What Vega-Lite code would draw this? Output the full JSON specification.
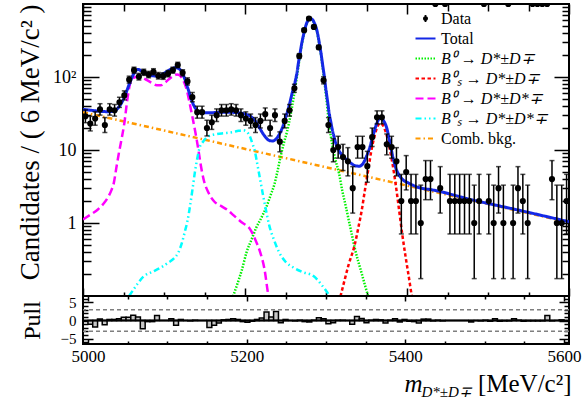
{
"$schema":"https://vega.github.io/schema/vega-lite/v6.json",
"padding":{"left":14,"top":2,"right":0,"bottom":0},
"spacing":0,
"bounds":"flush",
"config":{
 "font":"Liberation Serif",
 "view":{"stroke":"black","strokeWidth":2},
 "axis":{"domain":false,"grid":false,"tickColor":"black","tickWidth":1.5,"labelFont":"Liberation Serif","labelFontSize":18,"labelColor":"black","titleFont":"Liberation Serif","titleFontWeight":"normal","titleColor":"black"},
 "legend":{"labelFont":"Liberation Serif"}
},
"datasets":{
"bins":[
{"m":5003,"n":29,"lo":23.66,"hi":35.48,"pull":-1.0},
{"m":5009,"n":23,"lo":18.25,"hi":28.9,"pull":-1.8},
{"m":5015,"n":27,"lo":21.85,"hi":33.29,"pull":0.4},
{"m":5021,"n":36,"lo":30.05,"hi":43.08,"pull":-1.2},
{"m":5027,"n":22,"lo":17.36,"hi":27.8,"pull":0.3},
{"m":5033,"n":36,"lo":30.05,"hi":43.08,"pull":0.3},
{"m":5039,"n":35,"lo":29.13,"hi":42,"pull":0.5},
{"m":5045,"n":45,"lo":38.34,"hi":52.78,"pull":0.9},
{"m":5051,"n":56,"lo":48.57,"hi":64.55,"pull":0.9},
{"m":5057,"n":92,"lo":82.46,"hi":102.64,"pull":1.5},
{"m":5063,"n":124,"lo":112.9,"hi":136.2,"pull":1.0},
{"m":5069,"n":101,"lo":91.0,"hi":112.1,"pull":-2.3},
{"m":5075,"n":116,"lo":105.3,"hi":127.8,"pull":-0.3},
{"m":5081,"n":108,"lo":97.66,"hi":119.4,"pull":-0.3},
{"m":5087,"n":118,"lo":107.2,"hi":129.9,"pull":1.4},
{"m":5093,"n":104,"lo":93.85,"hi":115.25,"pull":0.0},
{"m":5099,"n":103,"lo":92.9,"hi":114.2,"pull":0.0},
{"m":5105,"n":111,"lo":100.5,"hi":122.6,"pull":0.5},
{"m":5111,"n":124,"lo":112.9,"hi":136.2,"pull":-1.3},
{"m":5117,"n":146,"lo":133.97,"hi":159.1,"pull":0.3},
{"m":5123,"n":114,"lo":103.4,"hi":125.7,"pull":0.0},
{"m":5129,"n":87,"lo":77.72,"hi":97.38,"pull":-0.1},
{"m":5135,"n":53,"lo":45.77,"hi":61.35,"pull":0.1},
{"m":5141,"n":33,"lo":27.3,"hi":39.8,"pull":0.0},
{"m":5147,"n":33,"lo":27.3,"hi":39.8,"pull":0.0},
{"m":5153,"n":20,"lo":15.58,"hi":25.58,"pull":-1.9},
{"m":5159,"n":24,"lo":19.15,"hi":30,"pull":-1.3},
{"m":5165,"n":30,"lo":24.57,"hi":36.57,"pull":-0.7},
{"m":5171,"n":35,"lo":29.13,"hi":42,"pull":0.2},
{"m":5177,"n":35,"lo":29.13,"hi":42,"pull":0.3},
{"m":5183,"n":36,"lo":30.05,"hi":43.08,"pull":0.5},
{"m":5189,"n":35,"lo":29.13,"hi":42,"pull":0.3},
{"m":5195,"n":30,"lo":24.57,"hi":36.57,"pull":-0.3},
{"m":5201,"n":27,"lo":21.85,"hi":33.29,"pull":-0.5},
{"m":5207,"n":25,"lo":20.05,"hi":31.1,"pull":-0.2},
{"m":5213,"n":22,"lo":17.36,"hi":27.8,"pull":0.3},
{"m":5219,"n":25,"lo":20.05,"hi":31.1,"pull":0.7},
{"m":5225,"n":31,"lo":25.48,"hi":37.66,"pull":2.4},
{"m":5231,"n":20,"lo":15.58,"hi":25.58,"pull":1.0},
{"m":5237,"n":30,"lo":24.57,"hi":36.57,"pull":2.5},
{"m":5243,"n":13,"lo":9.44,"hi":17.71,"pull":-0.6},
{"m":5249,"n":25,"lo":20.05,"hi":31.1,"pull":0.3},
{"m":5255,"n":35,"lo":29.13,"hi":42,"pull":0.0},
{"m":5261,"n":70,"lo":61.68,"hi":79.43,"pull":-0.1},
{"m":5267,"n":194,"lo":180.1,"hi":208.96,"pull":0.1},
{"m":5273,"n":438,"lo":417.1,"hi":459.95,"pull":-0.3},
{"m":5279,"n":633,"lo":607.9,"hi":659.2,"pull":-0.4},
{"m":5285,"n":486,"lo":464,"hi":509.1,"pull":0.1},
{"m":5291,"n":255,"lo":239.1,"hi":272,"pull":0.8},
{"m":5297,"n":90,"lo":80.56,"hi":100.54,"pull":0.5},
{"m":5303,"n":22,"lo":17.36,"hi":27.8,"pull":-0.9},
{"m":5309,"n":10,"lo":6.891,"hi":14.27,"pull":-0.6},
{"m":5315,"n":11,"lo":7.734,"hi":15.42,"pull":0.1},
{"m":5321,"n":8,"lo":5.232,"hi":11.95,"pull":0.1},
{"m":5327,"n":7,"lo":4.419,"hi":10.77,"pull":0.0},
{"m":5333,"n":3,"lo":1.367,"hi":5.918,"pull":-1.0},
{"m":5339,"n":11,"lo":7.734,"hi":15.42,"pull":1.1},
{"m":5345,"n":11,"lo":7.734,"hi":15.42,"pull":0.6},
{"m":5351,"n":6,"lo":3.62,"hi":9.584,"pull":-0.6},
{"m":5357,"n":15,"lo":11.18,"hi":20,"pull":0.1},
{"m":5363,"n":28,"lo":22.76,"hi":34.39,"pull":0.3},
{"m":5369,"n":28,"lo":22.76,"hi":34.39,"pull":0.2},
{"m":5375,"n":12,"lo":8.585,"hi":16.57,"pull":-0.7},
{"m":5381,"n":11,"lo":7.734,"hi":15.42,"pull":0.1},
{"m":5387,"n":7,"lo":4.419,"hi":10.77,"pull":0.5},
{"m":5393,"n":2,"lo":0.708,"hi":4.638,"pull":-0.4},
{"m":5399,"n":5,"lo":2.84,"hi":8.382,"pull":0.3},
{"m":5405,"n":2,"lo":0.708,"hi":4.638,"pull":-0.2},
{"m":5411,"n":2,"lo":0.708,"hi":4.638,"pull":-0.3},
{"m":5417,"n":1,"lo":0.173,"hi":3.3,"pull":-0.7},
{"m":5423,"n":4,"lo":2.086,"hi":7.163,"pull":0.4},
{"m":5429,"n":4,"lo":2.086,"hi":7.163,"pull":0.4},
{"m":5435,"n":0,"lo":null,"hi":null,"pull":-0.1},
{"m":5441,"n":3,"lo":1.367,"hi":5.918,"pull":0.1},
{"m":5447,"n":0,"lo":null,"hi":null,"pull":-0.1},
{"m":5453,"n":2,"lo":0.708,"hi":4.638,"pull":0.0},
{"m":5459,"n":2,"lo":0.708,"hi":4.638,"pull":0.0},
{"m":5465,"n":2,"lo":0.708,"hi":4.638,"pull":0.0},
{"m":5471,"n":2,"lo":0.708,"hi":4.638,"pull":0.0},
{"m":5477,"n":2,"lo":0.708,"hi":4.638,"pull":0.0},
{"m":5483,"n":1,"lo":0.173,"hi":3.3,"pull":-0.4},
{"m":5489,"n":2,"lo":0.708,"hi":4.638,"pull":0.0},
{"m":5495,"n":0,"lo":null,"hi":null,"pull":-0.1},
{"m":5501,"n":2,"lo":0.708,"hi":4.638,"pull":0.1},
{"m":5507,"n":1,"lo":0.173,"hi":3.3,"pull":-0.2},
{"m":5513,"n":3,"lo":1.367,"hi":5.918,"pull":0.5},
{"m":5519,"n":1,"lo":0.173,"hi":3.3,"pull":-0.2},
{"m":5525,"n":0,"lo":null,"hi":null,"pull":-0.1},
{"m":5531,"n":1,"lo":0.173,"hi":3.3,"pull":-0.1},
{"m":5537,"n":3,"lo":1.367,"hi":5.918,"pull":0.5},
{"m":5543,"n":2,"lo":0.708,"hi":4.638,"pull":0.1},
{"m":5549,"n":1,"lo":0.173,"hi":3.3,"pull":-0.2},
{"m":5555,"n":0,"lo":null,"hi":null,"pull":-0.1},
{"m":5561,"n":0,"lo":null,"hi":null,"pull":-0.1},
{"m":5567,"n":0,"lo":null,"hi":null,"pull":-0.1},
{"m":5573,"n":0,"lo":null,"hi":null,"pull":-0.1},
{"m":5579,"n":4,"lo":2.086,"hi":7.163,"pull":1.4},
{"m":5585,"n":1,"lo":0.173,"hi":3.3,"pull":-0.1},
{"m":5591,"n":1,"lo":0.173,"hi":3.3,"pull":0.0},
{"m":5597,"n":2,"lo":0.708,"hi":4.638,"pull":0.2}
],
"total":[
{"c":"total","m":5000,"v":36},{"c":"total","m":5010,"v":35},{"c":"total","m":5020,"v":34},{"c":"total","m":5030,"v":33.5},{"c":"total","m":5038,"v":34},{"c":"total","m":5044,"v":38.5},{"c":"total","m":5048,"v":45},{"c":"total","m":5052,"v":56},{"c":"total","m":5056,"v":74},{"c":"total","m":5060,"v":96},{"c":"total","m":5064,"v":117},{"c":"total","m":5068,"v":127},{"c":"total","m":5072,"v":121},{"c":"total","m":5078,"v":111},{"c":"total","m":5084,"v":105},{"c":"total","m":5090,"v":103},{"c":"total","m":5096,"v":106},{"c":"total","m":5102,"v":116},{"c":"total","m":5108,"v":127},{"c":"total","m":5114,"v":134},{"c":"total","m":5118,"v":131},{"c":"total","m":5122,"v":117},{"c":"total","m":5126,"v":92},{"c":"total","m":5130,"v":67},{"c":"total","m":5134,"v":48.5},{"c":"total","m":5138,"v":38.5},{"c":"total","m":5142,"v":34},{"c":"total","m":5148,"v":32.5},{"c":"total","m":5160,"v":32.5},{"c":"total","m":5175,"v":33},{"c":"total","m":5190,"v":32.5},{"c":"total","m":5200,"v":31},{"c":"total","m":5206,"v":29.3},{"c":"total","m":5212,"v":25.5},{"c":"total","m":5218,"v":20},{"c":"total","m":5224,"v":15.7},{"c":"total","m":5230,"v":13.5},{"c":"total","m":5234,"v":13.3},{"c":"total","m":5238,"v":14},{"c":"total","m":5242,"v":16.2},{"c":"total","m":5246,"v":20},{"c":"total","m":5250,"v":27.5},{"c":"total","m":5254,"v":38.5},{"c":"total","m":5258,"v":59},{"c":"total","m":5262,"v":87},{"c":"total","m":5264,"v":112},{"c":"total","m":5266,"v":157},{"c":"total","m":5268,"v":212},{"c":"total","m":5270,"v":287},{"c":"total","m":5272,"v":367},{"c":"total","m":5274,"v":457},{"c":"total","m":5276,"v":542},{"c":"total","m":5278,"v":602},{"c":"total","m":5280,"v":642},{"c":"total","m":5282,"v":627},{"c":"total","m":5284,"v":597},{"c":"total","m":5286,"v":537},{"c":"total","m":5288,"v":468},{"c":"total","m":5290,"v":377},{"c":"total","m":5292,"v":281},{"c":"total","m":5294,"v":206},{"c":"total","m":5296,"v":143},{"c":"total","m":5298,"v":100},{"c":"total","m":5300,"v":66},{"c":"total","m":5302,"v":46},{"c":"total","m":5304,"v":31.5},{"c":"total","m":5306,"v":24},{"c":"total","m":5308,"v":18.5},{"c":"total","m":5310,"v":15.1},{"c":"total","m":5312,"v":12.5},{"c":"total","m":5316,"v":9.8},{"c":"total","m":5322,"v":8},{"c":"total","m":5330,"v":6.7},{"c":"total","m":5336,"v":6.1},{"c":"total","m":5341,"v":6.0},{"c":"total","m":5346,"v":6.6},{"c":"total","m":5350,"v":8.2},{"c":"total","m":5354,"v":10.8},{"c":"total","m":5358,"v":15.7},{"c":"total","m":5362,"v":22},{"c":"total","m":5366,"v":27},{"c":"total","m":5368,"v":27.5},{"c":"total","m":5371,"v":25.3},{"c":"total","m":5375,"v":20},{"c":"total","m":5379,"v":12.4},{"c":"total","m":5383,"v":7.6},{"c":"total","m":5387,"v":5.35},{"c":"total","m":5392,"v":4.25},{"c":"total","m":5396,"v":3.82},{"c":"total","m":5400,"v":3.62},{"c":"total","m":5413,"v":3.1},{"c":"total","m":5433,"v":2.82},{"c":"total","m":5480,"v":2.08},{"c":"total","m":5540,"v":1.48},{"c":"total","m":5600,"v":1.04}
],
"comp":[
{"c":"comb","m":5000,"v":33},{"c":"comb","m":5600,"v":1.02},
{"c":"b0dd","m":5184,"v":0.091},{"c":"b0dd","m":5190,"v":0.14},{"c":"b0dd","m":5196,"v":0.225},{"c":"b0dd","m":5202,"v":0.4},{"c":"b0dd","m":5208,"v":0.59},{"c":"b0dd","m":5214,"v":0.87},{"c":"b0dd","m":5220,"v":1.17},{"c":"b0dd","m":5226,"v":1.62},{"c":"b0dd","m":5232,"v":2.47},{"c":"b0dd","m":5236,"v":3.3},{"c":"b0dd","m":5240,"v":5.05},{"c":"b0dd","m":5244,"v":8.2},{"c":"b0dd","m":5248,"v":12.5},{"c":"b0dd","m":5252,"v":18},{"c":"b0dd","m":5256,"v":29},{"c":"b0dd","m":5260,"v":52},{"c":"b0dd","m":5264,"v":100},{"c":"b0dd","m":5268,"v":200},{"c":"b0dd","m":5272,"v":355},{"c":"b0dd","m":5276,"v":530},{"c":"b0dd","m":5280,"v":630},{"c":"b0dd","m":5284,"v":585},{"c":"b0dd","m":5288,"v":456},{"c":"b0dd","m":5292,"v":270},{"c":"b0dd","m":5296,"v":132},{"c":"b0dd","m":5300,"v":56},{"c":"b0dd","m":5304,"v":22},{"c":"b0dd","m":5308,"v":11.4},{"c":"b0dd","m":5312,"v":7.1},{"c":"b0dd","m":5316,"v":4.85},{"c":"b0dd","m":5320,"v":2.8},{"c":"b0dd","m":5324,"v":1.78},{"c":"b0dd","m":5330,"v":0.87},{"c":"b0dd","m":5336,"v":0.43},{"c":"b0dd","m":5344,"v":0.205},{"c":"b0dd","m":5352,"v":0.1},{"c":"b0dd","m":5356,"v":0.073},
{"c":"bsdd","m":5316,"v":0.082},{"c":"bsdd","m":5322,"v":0.15},{"c":"bsdd","m":5328,"v":0.27},{"c":"bsdd","m":5335,"v":0.48},{"c":"bsdd","m":5340,"v":0.87},{"c":"bsdd","m":5344,"v":1.47},{"c":"bsdd","m":5348,"v":2.8},{"c":"bsdd","m":5352,"v":5.25},{"c":"bsdd","m":5356,"v":9.8},{"c":"bsdd","m":5360,"v":15.6},{"c":"bsdd","m":5364,"v":21.5},{"c":"bsdd","m":5367,"v":23.2},{"c":"bsdd","m":5370,"v":22},{"c":"bsdd","m":5374,"v":17.2},{"c":"bsdd","m":5378,"v":11.3},{"c":"bsdd","m":5382,"v":6.6},{"c":"bsdd","m":5386,"v":3.4},{"c":"bsdd","m":5390,"v":1.58},{"c":"bsdd","m":5394,"v":0.72},{"c":"bsdd","m":5398,"v":0.36},{"c":"bsdd","m":5402,"v":0.19},{"c":"bsdd","m":5406,"v":0.1},{"c":"bsdd","m":5410,"v":0.064},
{"c":"b0dsd","m":5000,"v":1.12},{"c":"b0dsd","m":5010,"v":1.32},{"c":"b0dsd","m":5018,"v":1.52},{"c":"b0dsd","m":5025,"v":1.82},{"c":"b0dsd","m":5030,"v":2.17},{"c":"b0dsd","m":5035,"v":2.8},{"c":"b0dsd","m":5038,"v":3.52},{"c":"b0dsd","m":5041,"v":5.55},{"c":"b0dsd","m":5044,"v":8.7},{"c":"b0dsd","m":5047,"v":13},{"c":"b0dsd","m":5051,"v":23.2},{"c":"b0dsd","m":5055,"v":51.5},{"c":"b0dsd","m":5059,"v":87},{"c":"b0dsd","m":5063,"v":98},{"c":"b0dsd","m":5067,"v":100.5},{"c":"b0dsd","m":5073,"v":98},{"c":"b0dsd","m":5079,"v":90.5},{"c":"b0dsd","m":5085,"v":83},{"c":"b0dsd","m":5091,"v":77},{"c":"b0dsd","m":5096,"v":77},{"c":"b0dsd","m":5101,"v":83},{"c":"b0dsd","m":5106,"v":93},{"c":"b0dsd","m":5111,"v":102},{"c":"b0dsd","m":5116,"v":108},{"c":"b0dsd","m":5119,"v":106.5},{"c":"b0dsd","m":5122,"v":97.5},{"c":"b0dsd","m":5125,"v":84},{"c":"b0dsd","m":5128,"v":67},{"c":"b0dsd","m":5131,"v":47.5},{"c":"b0dsd","m":5135,"v":28.7},{"c":"b0dsd","m":5139,"v":16.8},{"c":"b0dsd","m":5142,"v":10.85},{"c":"b0dsd","m":5145,"v":6.6},{"c":"b0dsd","m":5149,"v":3.92},{"c":"b0dsd","m":5155,"v":2.59},{"c":"b0dsd","m":5162,"v":1.97},{"c":"b0dsd","m":5170,"v":1.72},{"c":"b0dsd","m":5178,"v":1.52},{"c":"b0dsd","m":5186,"v":1.27},{"c":"b0dsd","m":5195,"v":1.04},{"c":"b0dsd","m":5207,"v":0.8},{"c":"b0dsd","m":5213,"v":0.58},{"c":"b0dsd","m":5219,"v":0.39},{"c":"b0dsd","m":5224,"v":0.235},{"c":"b0dsd","m":5229,"v":0.1},{"c":"b0dsd","m":5232,"v":0.073},
{"c":"bsdsd","m":5057,"v":0.1},{"c":"bsdsd","m":5066,"v":0.14},{"c":"bsdsd","m":5075,"v":0.186},{"c":"bsdsd","m":5086,"v":0.215},{"c":"bsdsd","m":5096,"v":0.245},{"c":"bsdsd","m":5105,"v":0.285},{"c":"bsdsd","m":5112,"v":0.325},{"c":"bsdsd","m":5118,"v":0.4},{"c":"bsdsd","m":5122,"v":0.53},{"c":"bsdsd","m":5126,"v":0.78},{"c":"bsdsd","m":5129,"v":1.07},{"c":"bsdsd","m":5132,"v":1.67},{"c":"bsdsd","m":5135,"v":2.8},{"c":"bsdsd","m":5138,"v":4.85},{"c":"bsdsd","m":5141,"v":7.6},{"c":"bsdsd","m":5144,"v":10.8},{"c":"bsdsd","m":5148,"v":12.9},{"c":"bsdsd","m":5155,"v":15.4},{"c":"bsdsd","m":5165,"v":16.5},{"c":"bsdsd","m":5175,"v":17},{"c":"bsdsd","m":5185,"v":17.6},{"c":"bsdsd","m":5192,"v":18.3},{"c":"bsdsd","m":5198,"v":18.6},{"c":"bsdsd","m":5202,"v":17.8},{"c":"bsdsd","m":5206,"v":15.4},{"c":"bsdsd","m":5209,"v":12.4},{"c":"bsdsd","m":5212,"v":9.8},{"c":"bsdsd","m":5215,"v":6.6},{"c":"bsdsd","m":5218,"v":4.35},{"c":"bsdsd","m":5222,"v":2.5},{"c":"bsdsd","m":5226,"v":1.48},{"c":"bsdsd","m":5230,"v":0.92},{"c":"bsdsd","m":5236,"v":0.58},{"c":"bsdsd","m":5242,"v":0.4},{"c":"bsdsd","m":5250,"v":0.295},{"c":"bsdsd","m":5260,"v":0.245},{"c":"bsdsd","m":5270,"v":0.215},{"c":"bsdsd","m":5285,"v":0.186},{"c":"bsdsd","m":5295,"v":0.14},{"c":"bsdsd","m":5302,"v":0.11},{"c":"bsdsd","m":5306,"v":0.091}
]
},
"vconcat":[
{
 "width":486,"height":292,
 "resolve":{"axis":{"x":"independent","y":"independent"}},
 "layer":[
  {"data":{"name":"comp"},
   "mark":{"type":"line","strokeWidth":2.5,"clip":true,"interpolate":"monotone"},
   "encoding":{
    "x":{"field":"m","type":"quantitative","scale":{"domain":[5000,5600],"nice":false,"zero":false},
      "axis":{"orient":"bottom","values":[5000,5200,5400,5600],"labels":false,"tickSize":-8,"title":null}},
    "y":{"field":"v","type":"quantitative","scale":{"type":"log","domain":[0.1,1000],"nice":false},
      "axis":{"orient":"left","values":[1,10,100],"tickSize":-16,"labelPadding":23,"labelExpr":"datum.value == 100 ? '10²' : datum.label","title":"Candidates / ( 6 MeV/c² )","titleFontSize":27,"titleAnchor":"end","titleX":-39,"titleBaseline":"bottom"}},
    "color":{"field":"c","type":"nominal",
      "scale":{"domain":["data","total","b0dd","bsdd","b0dsd","bsdsd","comb"],"range":["black","#1428e6","#00f000","#ff0000","#ff00ff","#00ffff","#ff9900"]},
      "legend":{"orient":"none","legendX":331,"legendY":3,"title":null,"padding":0,"labelFontSize":16,"labelColor":"black","labelOffset":4,"labelLimit":300,"symbolType":"stroke","symbolSize":400,"symbolStrokeWidth":2.2,"rowPadding":0,
        "labelExpr":"datum.value == 'data' ? 'Data' : datum.value == 'total' ? 'Total' : datum.value == 'b0dd' ? 'B⁰ → D*±D∓' : datum.value == 'bsdd' ? 'B⁰ₛ → D*±D∓' : datum.value == 'b0dsd' ? 'B⁰ → D*±D*∓' : datum.value == 'bsdsd' ? 'B⁰ₛ → D*±D*∓' : 'Comb. bkg.'",
        "encode":{"symbols":{"update":{"shape":{"signal":"datum.value === 'data' ? 'M-0.14,0A0.14,0.14 0 1,1 0.14,0A0.14,0.14 0 1,1 -0.14,0Z M0,-0.25L0,0.25 M-0.09,-0.25L0.09,-0.25 M-0.09,0.25L0.09,0.25' : 'stroke'"},"fill":{"signal":"datum.value === 'data' ? 'black' : 'transparent'"}}},
                  "labels":{"update":{"fontStyle":{"signal":"indexof(['data','total','comb'], datum.value) >= 0 ? 'normal' : 'italic'"}}}}}},
    "strokeDash":{"field":"c","type":"nominal",
      "scale":{"domain":["data","total","b0dd","bsdd","b0dsd","bsdsd","comb"],"range":[[1,0],[1,0],[1.5,1.5],[3.5,2.5],[8,4],[6,3,1.5,3,1.5,3],[5,3,1.5,3]]},
      "legend":{"orient":"none","legendX":331,"legendY":3,"title":null}}
   }},
  {"data":{"name":"total"},
   "mark":{"type":"line","strokeWidth":3,"clip":true,"interpolate":"monotone"},
   "encoding":{
    "x":{"field":"m","type":"quantitative","scale":{"domain":[5000,5600],"nice":false,"zero":false},"axis":null},
    "y":{"field":"v","type":"quantitative","scale":{"type":"log","domain":[0.1,1000],"nice":false},"axis":null},
    "color":{"field":"c","type":"nominal","scale":{"domain":["data","total","b0dd","bsdd","b0dsd","bsdsd","comb"],"range":["black","#1428e6","#00f000","#ff0000","#ff00ff","#00ffff","#ff9900"]}},
    "strokeDash":{"field":"c","type":"nominal","scale":{"domain":["data","total","b0dd","bsdd","b0dsd","bsdsd","comb"],"range":[[1,0],[1,0],[1.5,1.5],[3.5,2.5],[8,4],[6,3,1.5,3,1.5,3],[5,3,1.5,3]]}}
   }},
  {"data":{"name":"bins"},
   "mark":{"type":"rule","color":"black","strokeWidth":1.5,"clip":true},
   "encoding":{
    "x":{"field":"m","type":"quantitative","scale":{"domain":[5000,5600],"nice":false,"zero":false},
      "axis":{"orient":"top","values":[5000,5200,5400,5600],"labels":false,"tickSize":-10,"title":null}},
    "y":{"field":"lo","type":"quantitative","scale":{"type":"log","domain":[0.1,1000],"nice":false},
      "axis":{"orient":"right","values":[1,10,100],"labels":false,"tickSize":-15,"title":null}},
    "y2":{"field":"hi"}
   }},
  {"data":{"name":"bins"},
   "mark":{"type":"tick","orient":"horizontal","size":5,"thickness":1.5,"color":"black","clip":true},
   "encoding":{
    "x":{"field":"m","type":"quantitative","scale":{"domain":[5000,5600],"nice":false,"zero":false},
      "axis":{"orient":"bottom","values":[5050,5100,5150,5250,5300,5350,5450,5500,5550],"labels":false,"tickSize":-4,"title":null}},
    "y":{"field":"lo","type":"quantitative","scale":{"type":"log","domain":[0.1,1000],"nice":false},
      "axis":{"orient":"left","values":[0.2,0.3,0.4,0.5,0.6,0.7,0.8,0.9,2,3,4,5,6,7,8,9,20,30,40,50,60,70,80,90,200,300,400,500,600,700,800,900],"labels":false,"tickSize":-8,"title":null}}
   }},
  {"data":{"name":"bins"},
   "mark":{"type":"tick","orient":"horizontal","size":5,"thickness":1.5,"color":"black","clip":true},
   "encoding":{
    "x":{"field":"m","type":"quantitative","scale":{"domain":[5000,5600],"nice":false,"zero":false},
      "axis":{"orient":"top","values":[5050,5100,5150,5250,5300,5350,5450,5500,5550],"labels":false,"tickSize":-7,"title":null}},
    "y":{"field":"hi","type":"quantitative","scale":{"type":"log","domain":[0.1,1000],"nice":false},
      "axis":{"orient":"right","values":[0.2,0.3,0.4,0.5,0.6,0.7,0.8,0.9,2,3,4,5,6,7,8,9,20,30,40,50,60,70,80,90,200,300,400,500,600,700,800,900],"labels":false,"tickSize":-7,"title":null}}
   }},
  {"data":{"name":"bins"},
   "mark":{"type":"point","filled":true,"color":"black","size":38,"opacity":1,"clip":true},
   "encoding":{
    "x":{"field":"m","type":"quantitative","scale":{"domain":[5000,5600],"nice":false,"zero":false},"axis":null},
    "y":{"field":"n","type":"quantitative","scale":{"type":"log","domain":[0.1,1000],"nice":false},"axis":null}
   }}
 ]
},
{
 "width":486,"height":48,
 "resolve":{"axis":{"x":"independent","y":"independent"}},
 "layer":[
  {"data":{"name":"bins"},
   "mark":{"type":"bar","orient":"vertical","size":4.86,"fill":"#c8c8c8","stroke":"black","strokeWidth":1.5,"clip":true},
   "encoding":{
    "x":{"field":"m","type":"quantitative","scale":{"domain":[5000,5600],"nice":false,"zero":false},
      "axis":{"orient":"bottom","values":[5000,5200,5400,5600],"format":"d","labelFontSize":17,"tickSize":-5,"labelPadding":9,"title":"[MeV/c²]","titleFontSize":25,"titleX":488,"titleY":47,"titleAlign":"right","titleBaseline":"alphabetic","titleAngle":0}},
    "y":{"field":"pull","type":"quantitative","stack":null,"scale":{"domain":[-6.5,6.8],"nice":false,"zero":false},
      "axis":{"orient":"left","values":[-5,0,5],"labelFontSize":15,"tickSize":-10,"labelPadding":17,"labelExpr":"datum.value < 0 ? '−' + abs(datum.value) : datum.label","title":"Pull","titleFontSize":24,"titleX":-39,"titleBaseline":"bottom"}}
   }},
  {"data":{"values":[{"p":3},{"p":-3}]},
   "mark":{"type":"rule","color":"#7f7f7f","strokeWidth":1.5,"strokeDash":[4,3]},
   "encoding":{
    "y":{"field":"p","type":"quantitative","scale":{"domain":[-6.5,6.8],"nice":false,"zero":false},
      "axis":{"orient":"right","values":[-5,0,5],"labels":false,"tickSize":-10,"title":null}}
   }},
  {"data":{"values":[{"p":0}]},
   "mark":{"type":"rule","color":"black","strokeWidth":2},
   "encoding":{
    "y":{"field":"p","type":"quantitative","scale":{"domain":[-6.5,6.8],"nice":false,"zero":false},
      "axis":{"orient":"right","values":[-6,-4,-3,-2,-1,1,2,3,4,6],"labels":false,"tickSize":-5,"title":null}}
   }},
  {"data":{"name":"bins"},
   "mark":{"type":"point","opacity":0},
   "encoding":{
    "x":{"field":"m","type":"quantitative","scale":{"domain":[5000,5600],"nice":false,"zero":false},
      "axis":{"orient":"bottom","values":[5050,5100,5150,5250,5300,5350,5450,5500,5550],"labels":false,"tickSize":-3,"title":"m","titleFontSize":25,"titleFontStyle":"italic","titleX":321,"titleY":47,"titleAlign":"left","titleBaseline":"alphabetic","titleAngle":0}},
    "y":{"field":"pull","type":"quantitative","scale":{"domain":[-6.5,6.8],"nice":false,"zero":false},
      "axis":{"orient":"left","values":[-6,-4,-3,-2,-1,1,2,3,4,6],"labels":false,"tickSize":-5,"title":null}}
   }},
  {"data":{"name":"bins"},
   "mark":{"type":"point","opacity":0},
   "encoding":{
    "x":{"field":"m","type":"quantitative","scale":{"domain":[5000,5600],"nice":false,"zero":false},
      "axis":{"orient":"top","values":[5000,5200,5400,5600],"labels":false,"tickSize":-5,"title":"D*±D∓","titleFontSize":15,"titleFontStyle":"italic","titleX":338,"titleY":100,"titleAlign":"left","titleBaseline":"alphabetic","titleAngle":0}},
    "y":{"field":"pull","type":"quantitative","scale":{"domain":[-6.5,6.8],"nice":false,"zero":false},"axis":null}
   }},
  {"data":{"name":"bins"},
   "mark":{"type":"point","opacity":0},
   "encoding":{
    "x":{"field":"m","type":"quantitative","scale":{"domain":[5000,5600],"nice":false,"zero":false},
      "axis":{"orient":"top","values":[5050,5100,5150,5250,5300,5350,5450,5500,5550],"labels":false,"tickSize":-3,"title":null}},
    "y":{"field":"pull","type":"quantitative","scale":{"domain":[-6.5,6.8],"nice":false,"zero":false},"axis":null}
   }}
 ]
}
]
}
